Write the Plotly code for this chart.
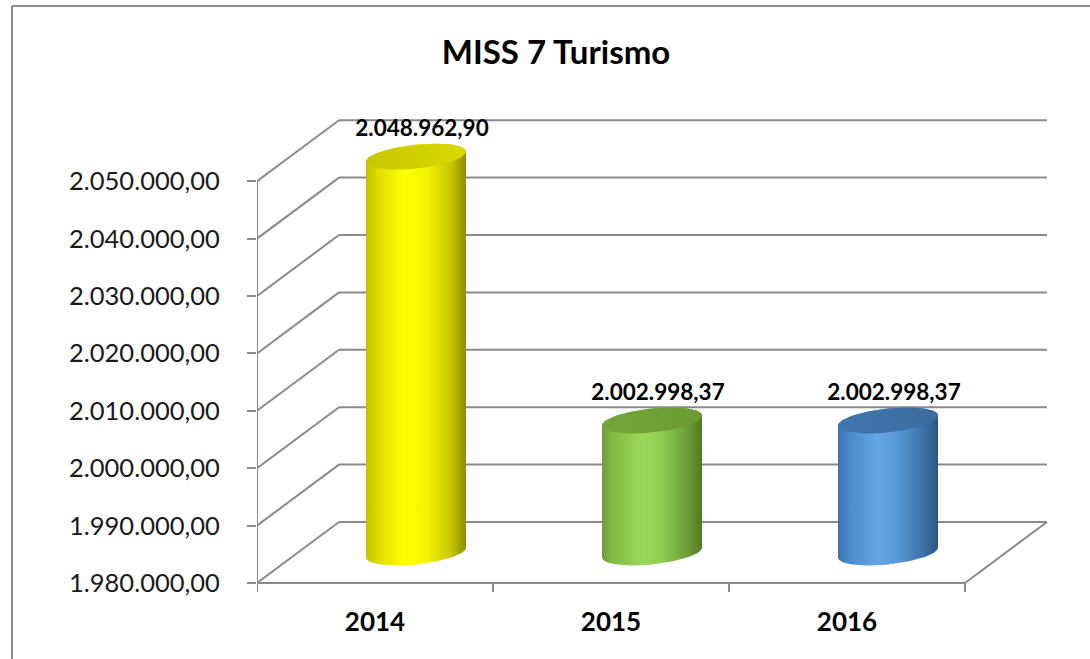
import numpy as np
import plotly.graph_objects as go

# ---------------- data ----------------
categories = ["2014", "2015", "2016"]
values = [2048962.90, 2002998.37, 2002998.37]
value_labels = ["2.048.962,90", "2.002.998,37", "2.002.998,37"]
y_tick_values = [1980000, 1990000, 2000000, 2010000, 2020000, 2030000, 2040000, 2050000]
y_tick_labels = ["1.980.000,00", "1.990.000,00", "2.000.000,00", "2.010.000,00",
                 "2.020.000,00", "2.030.000,00", "2.040.000,00", "2.050.000,00"]
title_text = "MISS 7 Turismo"

side_scales = [
    [[0, "#c2c200"], [0.12, "#dede00"], [0.38, "#ffff00"], [0.6, "#f6f600"], [0.85, "#c6c600"], [1, "#8e8e00"]],
    [[0, "#6e9e34"], [0.12, "#84bc44"], [0.4, "#9ad85a"], [0.6, "#90cc52"], [0.85, "#6c9e36"], [1, "#527a24"]],
    [[0, "#3a72aa"], [0.12, "#4a8ccc"], [0.4, "#64a6e6"], [0.6, "#5898d6"], [0.85, "#3c72aa"], [1, "#2c5680"]],
]
top_scales = [
    [[0, "#c6c600"], [1, "#dada00"]],
    [[0, "#74a63a"], [1, "#6c9a34"]],
    [[0, "#4276ac"], [1, "#3a6c9e"]],
]

# ---------------- geometry (3D look) ----------------
W, H = 1090, 659
M_L, M_R, M_T, M_B = 257, 30, 100, 59
PLOT_W = W - M_L - M_R
PLOT_H = H - M_T - M_B
BASE = y_tick_values[0]
PXV = (y_tick_values[1] - y_tick_values[0]) / 57.4   # value units per pixel
Y0 = BASE - (600 - 583) * PXV
Y1 = Y0 + PLOT_H * PXV
DEPTH_X = 82
DEPTH_Y = 61 * PXV
FLOOR_W = 708
N = len(categories)
CAT_W = FLOOR_W / N
cat_centers = [CAT_W * (i + 0.5) for i in range(N)]
RX = 50
RY = 12 * PXV
SHEAR = 5 * PXV
GRID = "#8a8a8a"

fig = go.Figure()
shapes = []

def seg(x0, y0, x1, y1, w=2, color=GRID):
    shapes.append(dict(type="line", xref="x", yref="y", x0=x0, y0=y0, x1=x1, y1=y1,
                       line=dict(color=color, width=w), layer="below"))

ymax = y_tick_values[-1]
# back wall gridlines and side wall diagonals
for v in y_tick_values:
    seg(DEPTH_X, v + DEPTH_Y, FLOOR_W + DEPTH_X, v + DEPTH_Y)
    seg(0, v, DEPTH_X, v + DEPTH_Y)
# front vertical axis
seg(0, BASE, 0, ymax)
# floor
seg(0, BASE, FLOOR_W, BASE)
seg(FLOOR_W, BASE, FLOOR_W + DEPTH_X, BASE + DEPTH_Y)
# category ticks below floor
for i in range(N + 1):
    seg(CAT_W * i, BASE, CAT_W * i, BASE - 9 * PXV)

# ---------------- cylinders ----------------
def ellipse(cx, cy, t):
    return cx + RX * np.cos(t), cy + RY * np.sin(t) + SHEAR * np.cos(t)

for i, v in enumerate(values):
    cx = cat_centers[i] + DEPTH_X / 2
    yb = BASE + DEPTH_Y / 2
    yt = v + DEPTH_Y / 2
    tb = np.linspace(np.pi, 2 * np.pi, 60)
    tt = np.linspace(0, np.pi, 60)
    xb, ybb = ellipse(cx, yb, tb)
    xt, ytt = ellipse(cx, yt, tt)
    xs = np.concatenate([xb, xt, xb[:1]])
    ys = np.concatenate([ybb, ytt, ybb[:1]])
    fig.add_trace(go.Scatter(
        x=xs, y=ys, mode="lines", fill="toself", line=dict(width=0),
        fillgradient=dict(type="horizontal", colorscale=side_scales[i],
                          start=cx - RX, stop=cx + RX),
        hoverinfo="skip", showlegend=False))
    ta = np.linspace(0, 2 * np.pi, 120)
    xa, ya = ellipse(cx, yt, ta)
    fig.add_trace(go.Scatter(
        x=xa, y=ya, mode="lines", fill="toself", line=dict(width=0),
        fillgradient=dict(type="horizontal", colorscale=top_scales[i],
                          start=cx - RX, stop=cx + RX),
        hoverinfo="skip", showlegend=False))

# data labels
fig.add_trace(go.Scatter(
    x=[c + DEPTH_X / 2 + 6 for c in cat_centers],
    y=[v + DEPTH_Y / 2 + 26 * PXV for v in values],
    mode="text", text=value_labels, textposition="middle center",
    textfont=dict(family="Lato", size=22.5, color="#000000", weight="bold"),
    hoverinfo="skip", showlegend=False))

# chart border (left and top edges)
def pxx(p):
    return (p - M_L) / PLOT_W

def pxy(p):
    return (H - M_B - p) / PLOT_H

shapes.append(dict(type="line", xref="paper", yref="paper", x0=pxx(12), y0=pxy(6), x1=pxx(1092), y1=pxy(6),
                   line=dict(color="#8c8c8c", width=2)))
shapes.append(dict(type="line", xref="paper", yref="paper", x0=pxx(12), y0=pxy(6), x1=pxx(12), y1=pxy(662),
                   line=dict(color="#8c8c8c", width=2)))

fig.update_layout(
    width=W, height=H,
    margin=dict(l=M_L, r=M_R, t=M_T, b=M_B),
    paper_bgcolor="white", plot_bgcolor="rgba(0,0,0,0)",
    shapes=shapes,
    showlegend=False,
    hovermode=False,
    title=dict(text=title_text, x=556 / W, xanchor="center", xref="container",
               y=1 - 52 / H, yanchor="middle", yref="container",
               font=dict(family="Lato", size=33, color="#000000", weight="bold")),
    xaxis=dict(range=[0, PLOT_W], showgrid=False, zeroline=False, showline=False,
               tickmode="array", tickvals=cat_centers, ticktext=categories,
               ticks="", ticklabelstandoff=4,
               tickfont=dict(family="Lato", size=26, color="#000000", weight="bold"),
               fixedrange=True),
    yaxis=dict(range=[Y0, Y1], showgrid=False, zeroline=False, showline=False,
               tickmode="array", tickvals=y_tick_values, ticktext=y_tick_labels,
               ticks="outside", ticklen=9, tickwidth=2, tickcolor=GRID,
               ticklabelstandoff=22, automargin=False,
               tickfont=dict(family="Lato", size=25.5, color="#1a1a1a"),
               fixedrange=True),
)

fig.write_html("out.html", config={"displayModeBar": False},
               post_script="document.body.style.margin='0px';")
